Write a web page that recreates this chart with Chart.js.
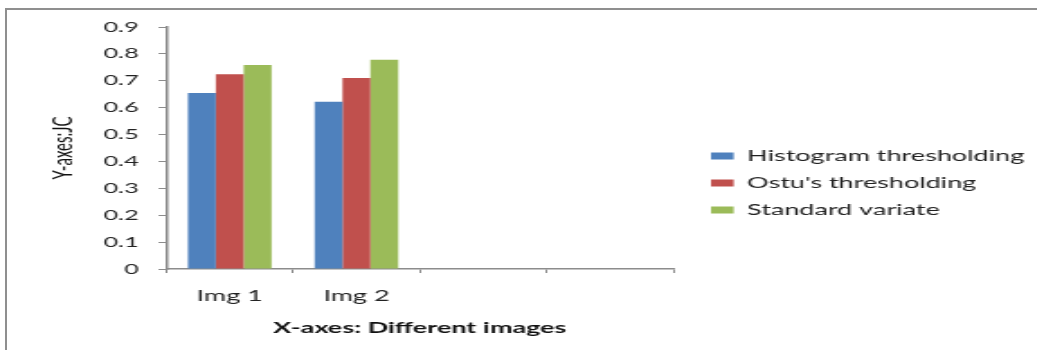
<!DOCTYPE html>
<html>
<head>
<meta charset="utf-8">
<script src="https://cdn.jsdelivr.net/npm/chart.js@4"></script>
<style>
  html, body { margin: 0; padding: 0; background: #fff; overflow: hidden; }
  #frame { position: absolute; left: 5px; top: 8px; width: 1100px; height: 400px;
           border-top: 2px solid #8f8f8f; border-left: 2px solid #8f8f8f; }
  /* the reference is stretched sideways, so the chart is drawn narrow and widened */
  #wrap { position: absolute; left: 0; top: 0; width: 576px; height: 350px;
          transform: scaleX(1.8); transform-origin: 0 0; }
</style>
</head>
<body>
<div id="frame"></div>
<div id="wrap"><canvas id="chart" width="576" height="350"></canvas></div>
<script>
const categories = ['Img 1', 'Img 2', '', ''];
const seriesNames = ['Histogram thresholding', "Ostu's thresholding", 'Standard variate'];
const histogramValues = [0.655, 0.622, null, null];
const otsuValues = [0.724, 0.710, null, null];
const standardValues = [0.759, 0.778, null, null];
const yTickLabels = ['0', '0.1', '0.2', '0.3', '0.4', '0.5', '0.6', '0.7', '0.8', '0.9'];

const seriesColors = ['#4f81bd', '#c0504d', '#9bbb59'];
const axisColor = '#8c8c8c';
const LEGEND_GAP = 9;

// the legend box is capped in width by the layout, so place it next to the plot by hand
const legendGap = {
    id: 'legendGap',
    afterLayout(chart) {
        const legend = chart.legend;
        legend.left = chart.chartArea.right + LEGEND_GAP;
        legend.right = chart.width;
    }
};

const ctx = document.getElementById('chart').getContext('2d');
new Chart(ctx, {
    type: 'bar',
    data: {
        labels: categories,
        datasets: [histogramValues, otsuValues, standardValues].map((values, i) => ({
            label: seriesNames[i],
            data: values,
            backgroundColor: seriesColors[i],
            borderWidth: 0,
            categoryPercentage: 0.66,
            barPercentage: 1
        }))
    },
    options: {
        responsive: false,
        animation: false,
        layout: { padding: { left: 2, top: 27, right: 78, bottom: 11 } },
        plugins: {
            tooltip: { enabled: false },
            legend: {
                position: 'right',
                labels: {
                    boxWidth: 12.6,
                    boxHeight: 7,
                    padding: 12,
                    color: '#222',
                    font: { family: 'Lato', size: 15 }
                }
            }
        },
        scales: {
            x: {
                grid: { offset: true, drawOnChartArea: false, tickLength: 4, color: axisColor },
                border: { color: axisColor, width: 1.5 },
                ticks: { padding: 14, color: '#222', font: { family: 'Lato', size: 15 } },
                title: {
                    display: true,
                    text: 'X-axes: Different images',
                    color: '#111',
                    padding: { top: 0, bottom: 2 },
                    font: { family: 'Lato', size: 15, weight: 'bold' }
                }
            },
            y: {
                min: 0,
                max: 0.9,
                ticks: {
                    stepSize: 0.1,
                    padding: 11,
                    color: '#222',
                    font: { family: 'Lato', size: 14 },
                    callback: (value, index) => yTickLabels[index]
                },
                grid: { drawOnChartArea: false, tickLength: 4.4, color: axisColor },
                border: { color: axisColor, width: 1.5 },
                title: {
                    display: true,
                    text: 'Y-axes:JC',
                    color: '#111',
                    padding: { top: 23.7, bottom: 2.8 },
                    font: { family: 'Lato', size: 15 }
                }
            }
        }
    },
    plugins: [legendGap]
});
</script>
</body>
</html>
